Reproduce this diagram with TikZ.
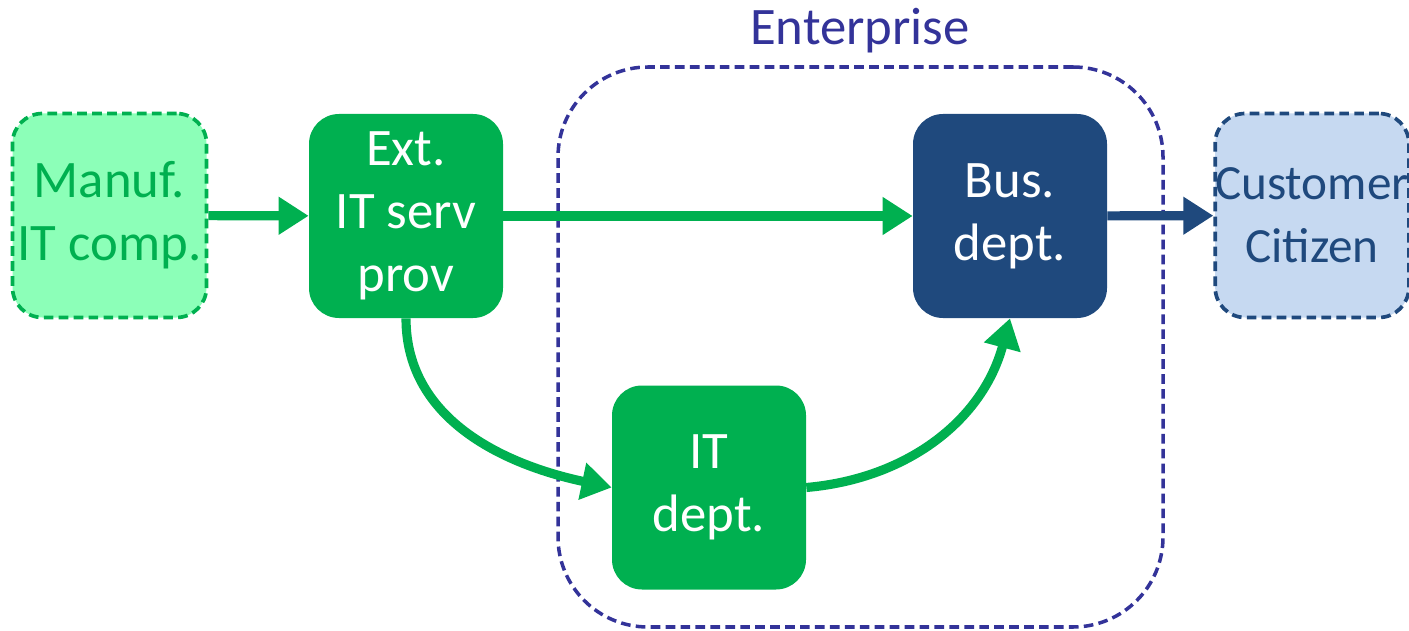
\documentclass[tikz,border=0pt]{standalone}
\usepackage{fontspec}
\setmainfont{Carlito}
\usetikzlibrary{arrows.meta}
\definecolor{itgreen}{HTML}{00B050}
\definecolor{paleg}{HTML}{8CFFB8}
\definecolor{busblue}{HTML}{1F497D}
\definecolor{paleblue}{HTML}{C6D9F1}
\definecolor{entnavy}{HTML}{333399}
\begin{document}
\begin{tikzpicture}[
    box/.style={rectangle, rounded corners=0.6cm, minimum width=3.88cm, minimum height=4.08cm, align=center, font=\fontsize{30}{36}\selectfont, inner sep=0pt},
    dashbox/.style={box, line width=2.1pt, dash pattern=on 5.5pt off 3pt},
    arrow/.style={-{Triangle[length=0.6cm,width=0.72cm]}, line width=5.2pt}
]
    \useasboundingbox (0,0) rectangle (28.18,-12.62);
    \node[draw=entnavy, line width=2pt, dash pattern=on 5.5pt off 3pt, rounded corners=1.8cm, minimum width=12.1cm, minimum height=11.2cm] (ent) at (17.21,-6.94) {};
    \node[text=entnavy, font=\fontsize{30}{36}\selectfont] (entlabel) at (17.2,-0.62) {Enterprise};

    \node[dashbox, draw=itgreen, fill=paleg, text=itgreen] (manuf) at (2.19,-4.31) {Manuf.\\IT comp.};
    \node[box, fill=itgreen, text=white] (ext) at (8.12,-4.32) {Ext.\\IT serv\\prov};
    \node[box, fill=busblue, text=white] (bus) at (20.2,-4.32) {Bus.\\dept.};
    \node[dashbox, draw=busblue, fill=paleblue, text=busblue, minimum width=3.8cm, font=\fontsize{28}{36}\selectfont] (cust) at (26.24,-4.31) {Customer\\Citizen};
    \node[box, fill=itgreen, text=white] (itdept) at (14.18,-9.75) {IT\\dept.};

    \draw[arrow, itgreen] (manuf) -- (ext);
    \draw[arrow, itgreen] (ext) -- (bus);
    \draw[arrow, busblue] (bus) -- (cust);
    \draw[arrow, itgreen] (ext.south) to[out=-90, in=168] (itdept.west);
    \draw[arrow, itgreen] (itdept.east) to[out=5, in=-105] (bus.south);
\end{tikzpicture}
\end{document}
